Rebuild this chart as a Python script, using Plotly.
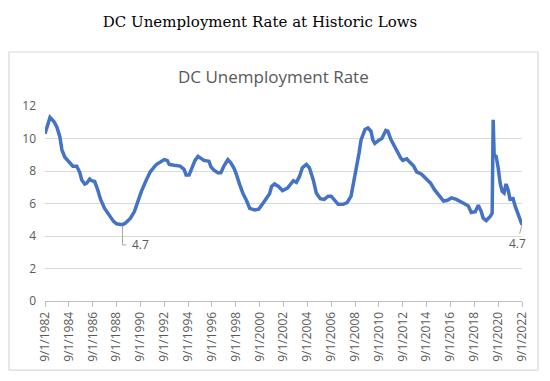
import plotly.graph_objects as go

# ---- data ----
dates = [
    "1982-09-01", "1983-02-01", "1983-06-01", "1983-09-01", "1983-12-01",
    "1984-02-01", "1984-05-01", "1984-09-01", "1985-01-01", "1985-05-01",
    "1985-08-01", "1985-10-01", "1986-01-01", "1986-03-01", "1986-06-01",
    "1986-08-01", "1986-11-01", "1987-02-01", "1987-05-01", "1987-09-01",
    "1988-02-01", "1988-06-01", "1988-09-01", "1989-03-01", "1989-06-01",
    "1989-11-01", "1990-03-01", "1990-07-01", "1990-10-01", "1991-03-01",
    "1991-07-01", "1992-01-01", "1992-06-01", "1992-09-01", "1992-12-01",
    "1993-02-01", "1993-07-01", "1994-01-01", "1994-05-01", "1994-07-01",
    "1994-10-01", "1995-01-01", "1995-04-01", "1995-07-01", "1995-10-01",
    "1996-01-01", "1996-06-01", "1996-08-01", "1996-11-01", "1997-03-01",
    "1997-06-01", "1997-09-01", "1998-01-01", "1998-04-01", "1998-07-01",
    "1998-09-01", "1999-01-01", "1999-04-01", "1999-08-01", "1999-11-01",
    "2000-04-01", "2000-08-01", "2000-11-01", "2001-03-01", "2001-07-01",
    "2001-09-01", "2001-12-01", "2002-04-01", "2002-08-01", "2003-01-01",
    "2003-04-01", "2003-07-01", "2003-10-01", "2004-01-01", "2004-04-01",
    "2004-08-01", "2004-11-01", "2005-03-01", "2005-06-01", "2005-10-01",
    "2006-02-01", "2006-06-01", "2006-09-01", "2007-01-01", "2007-04-01",
    "2007-09-01", "2008-01-01", "2008-05-01", "2008-07-01", "2008-10-01",
    "2009-01-01", "2009-03-01", "2009-07-01", "2009-10-01", "2010-01-01",
    "2010-03-01", "2010-05-01", "2010-09-01", "2010-12-01", "2011-04-01",
    "2011-06-01", "2011-09-01", "2012-01-01", "2012-03-01", "2012-07-01",
    "2012-09-01", "2013-01-01", "2013-04-01", "2013-08-01", "2013-11-01",
    "2014-04-01", "2014-08-01", "2015-01-01", "2015-05-01", "2015-10-01",
    "2016-02-01", "2016-06-01", "2016-10-01", "2017-03-01", "2017-08-01",
    "2017-12-01", "2018-03-01", "2018-06-01", "2018-10-01", "2019-01-01",
    "2019-04-01", "2019-06-01", "2019-09-01", "2020-01-01", "2020-03-01",
    "2020-04-01", "2020-05-01", "2020-07-01", "2020-09-01", "2020-11-01",
    "2021-01-01", "2021-03-01", "2021-05-01", "2021-07-01", "2021-09-01",
    "2021-12-01", "2022-02-01", "2022-05-01", "2022-09-01",
]
rates = [
    10.3, 11.3, 11.05, 10.7, 10.1,
    9.3, 8.85, 8.6, 8.3, 8.3,
    7.9, 7.45, 7.2, 7.25, 7.5,
    7.4, 7.35, 6.85, 6.25, 5.7,
    5.25, 4.9, 4.75, 4.7, 4.8,
    5.1, 5.5, 6.25, 6.75, 7.45,
    7.95, 8.4, 8.6, 8.7, 8.65,
    8.4, 8.35, 8.3, 8.1, 7.75,
    7.75, 8.2, 8.65, 8.9, 8.75,
    8.65, 8.6, 8.25, 8.05, 7.9,
    7.9, 8.3, 8.7, 8.5, 8.2,
    7.9, 7.15, 6.65, 6.15, 5.7,
    5.6, 5.65, 5.9, 6.25, 6.6,
    7.05, 7.2, 7.05, 6.8, 6.95,
    7.2, 7.4, 7.3, 7.65, 8.2,
    8.4, 8.2, 7.45, 6.65, 6.3,
    6.25, 6.45, 6.45, 6.15, 5.95,
    5.95, 6.05, 6.45, 7.05, 7.95,
    9.1, 9.9, 10.55, 10.65, 10.45,
    9.9, 9.7, 9.9, 10.0, 10.5,
    10.45, 9.95, 9.5, 9.2, 8.8,
    8.65, 8.75, 8.55, 8.3, 7.95,
    7.8, 7.55, 7.25, 6.85, 6.5,
    6.15, 6.2, 6.35, 6.25, 6.05,
    5.95, 5.85, 5.45, 5.5, 5.9,
    5.5, 5.1, 4.95, 5.2, 5.4,
    11.15, 9.0, 8.9, 8.2, 7.25,
    6.75, 6.65, 7.2, 6.85, 6.25,
    6.3, 5.85, 5.4, 4.7,
]
tick_dates = ["%d-09-01" % y for y in range(1982, 2023, 2)]
tick_labels = ["9/1/%d" % y for y in range(1982, 2023, 2)]
y_ticks = [0, 2, 4, 6, 8, 10, 12]

low_idx = 23          # 1989 low, labelled 4.7
last_idx = len(rates) - 1

fig = go.Figure()
fig.add_trace(go.Scatter(
    x=dates, y=rates, mode="lines",
    line=dict(color="#4472C4", width=3.5, shape="linear"),
    hoverinfo="x+y", showlegend=False,
))

grey_txt = "#595959"
sans = "Open Sans, Liberation Sans, sans-serif"
fig.update_xaxes(
    type="date",
    range=[dates[0], dates[-1]],
    tickvals=tick_dates, ticktext=tick_labels, tickangle=-90,
    tickfont=dict(family=sans, size=12, color=grey_txt),
    showgrid=False, showline=True, linecolor="#bfbfbf", linewidth=1,
    ticks="outside", ticklen=5, tickcolor="#bfbfbf",
    zeroline=False, automargin=False,
)
fig.update_yaxes(
    range=[0, 12], tickvals=y_ticks,
    tickfont=dict(family=sans, size=12, color=grey_txt),
    showgrid=True, gridcolor="#d9d9d9", gridwidth=1,
    showline=False, zeroline=False, ticks="", ticklabelstandoff=8,
    automargin=False,
)

# data labels with leader lines
fig.add_shape(type="path",
              path="M %s,%f L %s,%f L %s,%f" % (dates[low_idx], rates[low_idx] - 0.1,
                                              dates[low_idx], 3.45,
                                              "1989-07-01", 3.45),
              xref="x", yref="y", line=dict(color="#a6a6a6", width=1))
fig.add_annotation(x="1989-07-01", y=3.45, xref="x", yref="y",
                   text="%.1f" % rates[low_idx], showarrow=False,
                   xanchor="left", yanchor="middle", xshift=4,
                   font=dict(family=sans, size=12, color=grey_txt))
fig.add_annotation(x=dates[last_idx], y=rates[last_idx], xref="x", yref="y",
                   text="%.1f" % rates[last_idx], showarrow=True, arrowhead=0,
                   arrowcolor="#a6a6a6", arrowwidth=1, ax=-5, ay=19,
                   font=dict(family=sans, size=12, color=grey_txt))

# chart-area border
fig.add_shape(type="rect", xref="paper", yref="paper",
              x0=-0.0755, x1=1.0335, y0=-0.354, y1=1.277,
              line=dict(color="#d9d9d9", width=1.2), fillcolor="rgba(0,0,0,0)", layer="below")

fig.add_annotation(text="DC Unemployment Rate", xref="paper", yref="paper",
                   x=0.48, y=1.0 + (106 - 76) / 195.0, showarrow=False,
                   xanchor="center", yanchor="middle",
                   font=dict(family=sans, size=17, color=grey_txt))

# page body has an 8px margin, so the figure is drawn 8px smaller and offset
W, H = 542, 373
fig.update_layout(
    width=W, height=H,
    margin=dict(l=37, r=28, t=98, b=80),
    paper_bgcolor="white", plot_bgcolor="white",
    title=dict(text="DC Unemployment Rate at Historic Lows",
               x=(260 - 8) / W, xanchor="center", y=1 - (22 - 8) / H, yanchor="middle",
               font=dict(family="DejaVu Serif, serif", size=15, color="black")),
)

fig.write_html("out.html")
